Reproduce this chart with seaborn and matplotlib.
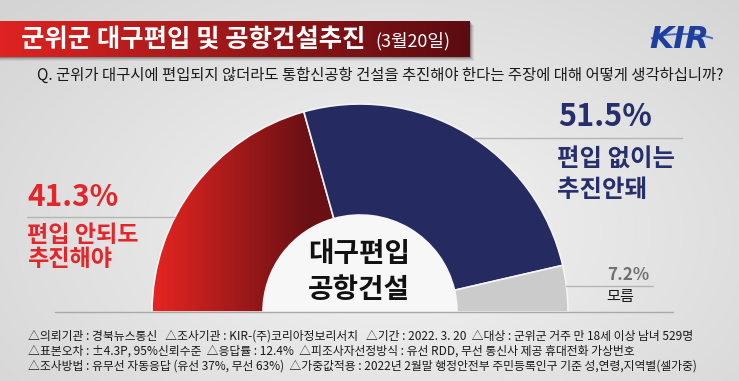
import numpy as np
import matplotlib
matplotlib.use("Agg")
import matplotlib.pyplot as plt
import seaborn as sns
from matplotlib.colors import to_rgb
from matplotlib.patches import Rectangle, Arc

sns.set_theme(style="white")
plt.rcParams['font.family'] = ['Noto Sans CJK KR', 'DejaVu Sans']

# ---------------- data ----------------
categories = ["편입 안되도\n추진해야", "편입 없이는\n추진안돼", "모름"]
values = [41.3, 51.5, 7.2]
seg_colors = ["#b81a1d", "#252b61", "#cbcbcb"]
text_colors = ["#e3262a", "#262f6b", "#707070"]
title = "군위군 대구편입 및 공항건설추진"
title_date = "(3월20일)"
question = "Q. 군위가 대구시에 편입되지 않더라도 통합신공항 건설을 추진해야 한다는 주장에 대해 어떻게 생각하십니까?"
center_label = ["대구편입", "공항건설"]
footer_lines = [
    "△의뢰기관 : 경북뉴스통신   △조사기관 : KIR-(주)코리아정보리서치   △기간 : 2022. 3. 20  △대상 : 군위군 거주 만 18세 이상 남녀 529명",
    "△표본오차 : ±4.3P, 95%신뢰수준  △응답률 : 12.4%  △피조사자선정방식 : 유선 RDD, 무선 통신사 제공 휴대전화 가상번호",
    "△조사방법 : 유무선 자동응답 (유선 37%, 무선 63%)  △가중값적용 : 2022년 2월말 행정안전부 주민등록인구 기준 성,연령,지역별(셀가중)",
]

W, H = 739, 381
fig = plt.figure(figsize=(W / 100, H / 100), dpi=100)

# ---------------- background ----------------
bg = fig.add_axes([0, 0, 1, 1])
bg.set_xlim(0, W); bg.set_ylim(H, 0); bg.axis('off')
yy, xx = np.mgrid[0:H, 0:W]
d = np.clip(np.sqrt(((xx - 390) / 520) ** 2 + ((yy - 230) / 330) ** 2), 0, 1)
c0 = np.array(to_rgb("#f4f4f4")); c1 = np.array(to_rgb("#d4d4d4"))
img = c0[None, None, :] * (1 - d[..., None]) + c1[None, None, :] * d[..., None]
bg.imshow(img, extent=[0, W, H, 0], aspect='auto', zorder=0)

# title bar shadow + gradient
for k, a in enumerate([0.06, 0.08, 0.12, 0.18]):
    off = 4 - k
    bg.add_patch(Rectangle((0, 21 + off), 470 + off, 36, color='black', alpha=a, lw=0, zorder=1))
gx = np.linspace(0, 1, 300)
ca = np.array(to_rgb("#de2321")); cb = np.array(to_rgb("#5a0c11"))
bar = ca[None, :] * (1 - gx[:, None]) + cb[None, :] * gx[:, None]
bg.imshow(bar[None, :, :], extent=[0, 470, 57, 21], aspect='auto', zorder=2)
bg.set_xlim(0, W); bg.set_ylim(H, 0)

# ---------------- half donut ----------------
cx, cy, R, r_in = 360, 312, 208, 97
pax = fig.add_axes([(cx - R) / W, (H - cy - R) / H, 2 * R / W, 2 * R / H])
pax.patch.set_alpha(0)
wedges, _ = pax.pie(values + [sum(values)], startangle=180, counterclock=False,
                    colors=seg_colors + ['none'], radius=1,
                    wedgeprops=dict(width=(R - r_in) / R, edgecolor='#f4f4f4', linewidth=1.2))
wedges[-1].set_visible(False)
# gradient on the first (red) segment (covers whole left half, clipped to the wedge)
gxs = np.linspace(-1, 0, 400)
rg = np.clip((gxs + 1) / 0.75, 0, 1)
r0 = np.array(to_rgb("#e62522")); r1 = np.array(to_rgb("#6a1014"))
rgrad = r0[None, :] * (1 - rg[:, None]) + r1[None, :] * rg[:, None]
im = pax.imshow(rgrad[None, :, :], extent=[-1, 0, 0, 1], aspect='auto', zorder=0.5)
im.set_clip_path(wedges[0])
wedges[0].set_facecolor('none')
# inner light half disc
inner, _ = pax.pie([1, 1], startangle=0, counterclock=True, radius=r_in / R,
                   colors=['#f7f7f7', 'none'], wedgeprops=dict(linewidth=0))
inner[1].set_visible(False)
pax.set_xlim(-1, 1); pax.set_ylim(-1, 1); pax.axis('off')

# ---------------- overlay: texts & lines ----------------
ov = fig.add_axes([0, 0, 1, 1])
ov.set_xlim(0, W); ov.set_ylim(H, 0); ov.axis('off'); ov.patch.set_alpha(0)

fig.canvas.draw()
rend = fig.canvas.get_renderer()

def fit(t, width):
    bb = t.get_window_extent(renderer=rend)
    t.set_fontsize(t.get_fontsize() * width / bb.width)
    return t

fit(ov.text(21, 39, title, color='white', fontsize=19, fontweight='bold', va='center'), 344)
fit(ov.text(375, 41, title_date, color='white', fontsize=11, va='center'), 75)
fit(ov.text(37, 75, question, color='#1a1a1a', fontsize=11, va='center'), 685)

# KIR logo
fit(ov.text(649, 39, "KIR", color='#1f3f9e', fontsize=16, fontweight='black', style='italic',
            family='DejaVu Sans', va='center'), 60)
ov.add_patch(Arc((682, 44), 74, 20, theta1=190, theta2=350, color='#4a6cc4', lw=1.4))

def edge_x(y, side):
    return cx + side * np.sqrt(R ** 2 - (cy - y) ** 2)

# left label (first category)
fit(ov.text(27, 197, f"{values[0]}%", color=text_colors[0], fontsize=22, fontweight='bold', va='center'), 91)
ov.plot([27, edge_x(217, -1)], [217, 217], color='#b5b5b5', lw=1)
l1, l2 = categories[0].split("\n")
t = fit(ov.text(27, 236, l1, color=text_colors[0], fontsize=16, fontweight='bold', va='center'), 112)
ov.text(27, 259, l2, color=text_colors[0], fontsize=t.get_fontsize(), fontweight='bold', va='center')

# right label (second category)
fit(ov.text(558, 117, f"{values[1]}%", color=text_colors[1], fontsize=22, fontweight='bold', va='center'), 94)
ov.plot([edge_x(138, 1), 682], [138, 138], color='#b5b5b5', lw=1)
l1, l2 = categories[1].split("\n")
t = fit(ov.text(557, 159, l1, color=text_colors[1], fontsize=17, fontweight='bold', va='center'), 118)
ov.text(557, 190, l2, color=text_colors[1], fontsize=t.get_fontsize(), fontweight='bold', va='center')

# third category
fit(ov.text(607, 275, f"{values[2]}%", color=text_colors[2], fontsize=13, fontweight='bold', va='center'), 42)
ov.plot([edge_x(286, 1), 653], [286, 286], color='#b5b5b5', lw=1)
fit(ov.text(606, 297, categories[2], color='#1a1a1a', fontsize=12, va='center'), 28)

# center label
t = fit(ov.text(359, 254, center_label[0], color='#111111', fontsize=19, fontweight='bold',
                ha='center', va='center'), 102)
ov.text(359, 290, center_label[1], color='#111111', fontsize=t.get_fontsize(), fontweight='bold',
        ha='center', va='center')

# baseline
ov.plot([55, 673], [312, 312], color='#a9a9a9', lw=1)

# footer
ft = fit(ov.text(28, 336, footer_lines[0], color='#1a1a1a', fontsize=9, va='center'), 666)
fs = ft.get_fontsize()
ov.text(28, 351, footer_lines[1], color='#1a1a1a', fontsize=fs, va='center')
ov.text(28, 366, footer_lines[2], color='#1a1a1a', fontsize=fs, va='center')

fig.savefig("out.png", dpi=100)
